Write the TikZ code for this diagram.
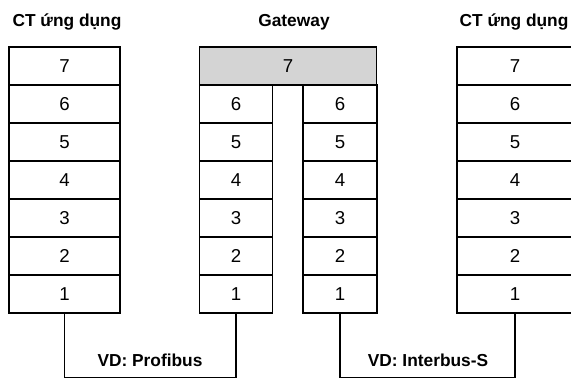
\documentclass[tikz,border=0pt]{standalone}
\usepackage{fontspec}
\setmainfont{Liberation Sans}
\begin{document}
\begin{tikzpicture}[x=0.75pt, y=-0.75pt,
    layer/.style={draw, line width=1.1pt, minimum height=28.5pt, inner sep=0pt,
        font=\fontsize{14}{16}\selectfont},
    title/.style={anchor=base, font=\bfseries\fontsize{13}{15}\selectfont},
    bus/.style={line width=1.1pt}]
    \useasboundingbox (0,0) rectangle (571,379);
    % headings
    \node[title] (appL) at (67,26) {CT ứng dụng};
    \node[title] (gw) at (294,26) {Gateway};
    \node[title] (appR) at (514,26) {CT ứng dụng};
    % end stations: layers 1..7
    \foreach \n in {1,...,7} {
        \node[layer, minimum width=83.25pt] (A\n) at (64.5,{66+(7-\n)*38}) {\n};
        \node[layer, minimum width=87pt] (B\n) at (515,{66+(7-\n)*38}) {\n};
    }
    % gateway: shared layer 7, two stacks below
    \node[layer, minimum width=133pt, fill=black!17] (G7) at (288,66) {7};
    \foreach \n in {1,...,6} {
        \node[layer, minimum width=54.75pt] (GL\n) at (236,{66+(7-\n)*38}) {\n};
        \node[layer, minimum width=55.5pt] (GR\n) at (340,{66+(7-\n)*38}) {\n};
    }
    % buses
    \draw[bus] (A1.south) -- ++(0,64) -| (GL1.south);
    \draw[bus] (GR1.south) -- ++(0,64) -| (B1.south);
    \node[title] (pbus) at (150,366) {VD: Profibus};
    \node[title] (ibus) at (428,366) {VD: Interbus-S};
\end{tikzpicture}
\end{document}
